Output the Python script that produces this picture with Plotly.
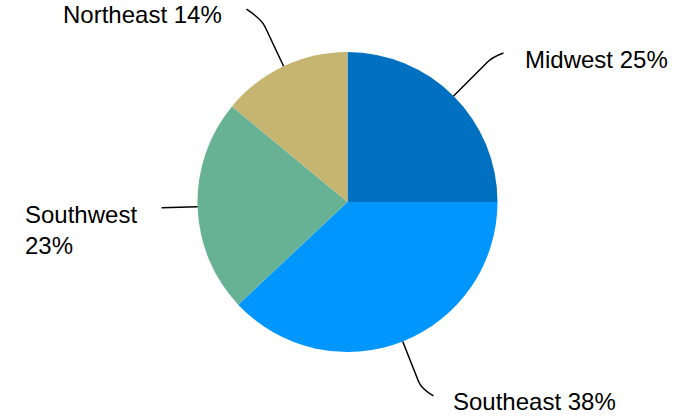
import math
import plotly.graph_objects as go

# ---- data ----
regions = ["Midwest", "Southeast", "Southwest", "Northeast"]
shares = [25, 38, 23, 14]
colors = ["#0070C0", "#0096FF", "#67B294", "#C6B571"]

# ---- layout style (pixels) ----
W, H = 686, 417
CX, CY, R = 347.5, 202, 150
FONT = "Liberation Sans, Arial, sans-serif"
FS = 24
# leader style per label: radial length beyond edge, horizontal tail (dx, dy),
# label offset from tail end, label anchor, label text layout
leader_len = [55, 51, 36, 52]
tails = [(11, -4), (12, 7), (0, 0), (-15, -10)]
label_off = [(20, 6.5), (18, 6), (-23, 22), (-22, 5.5)]
label_anchor = ["left", "left", "right", "right"]
label_break = [False, False, True, False]

fig = go.Figure()
fig.add_trace(go.Pie(
    labels=regions, values=shares, sort=False, direction="clockwise", rotation=0,
    marker=dict(colors=colors, line=dict(width=0)),
    textinfo="none", hoverinfo="label+percent", showlegend=False,
    domain=dict(x=[(CX - R) / W, (CX + R) / W], y=[(H - CY - R) / H, (H - CY + R) / H]),
))
# invisible pixel-space axes for leaders and labels
fig.add_trace(go.Scatter(x=[0, W], y=[0, H], mode="markers", marker=dict(opacity=0),
                         hoverinfo="skip", showlegend=False))

total = sum(shares)
cum = 0
shapes, annotations = [], []
for i, (name, v) in enumerate(zip(regions, shares)):
    mid = (cum + v / 2) / total * 2 * math.pi
    cum += v
    ux, uy = math.sin(mid), -math.cos(mid)
    px, py = CX + R * ux, CY + R * uy
    t = R + leader_len[i]
    ex, ey = CX + t * ux, CY + t * uy
    tx, ty = tails[i]
    endx, endy = ex + tx, ey + ty
    if tx == 0 and ty == 0:
        path = f"M {px},{py} L {ex},{ey}"
    else:
        kx, ky = CX + (t - 8) * ux, CY + (t - 8) * uy
        path = f"M {px},{py} L {kx},{ky} Q {ex},{ey} {endx},{endy}"
    shapes.append(dict(type="path", path=path, xref="x", yref="y",
                       line=dict(color="black", width=1.5)))
    pct = f"{round(v / total * 100)}%"
    text = f"{name}<br>{pct}" if label_break[i] else f"{name} {pct}"
    ox, oy = label_off[i]
    annotations.append(dict(x=endx + ox, y=endy + oy, xref="x", yref="y", text=text,
                            showarrow=False, xanchor=label_anchor[i], yanchor="middle",
                            align="left", font=dict(family=FONT, size=FS, color="black")))

fig.update_layout(
    width=W, height=H, margin=dict(l=0, r=0, t=0, b=0),
    paper_bgcolor="white", plot_bgcolor="rgba(0,0,0,0)",
    xaxis=dict(range=[0, W], visible=False, fixedrange=True, domain=[0, 1]),
    yaxis=dict(range=[H, 0], visible=False, fixedrange=True, domain=[0, 1]),
    shapes=shapes, annotations=annotations,
)
fig.write_html("out.html", config={"displayModeBar": False},
               post_script="document.body.style.margin='0';")
